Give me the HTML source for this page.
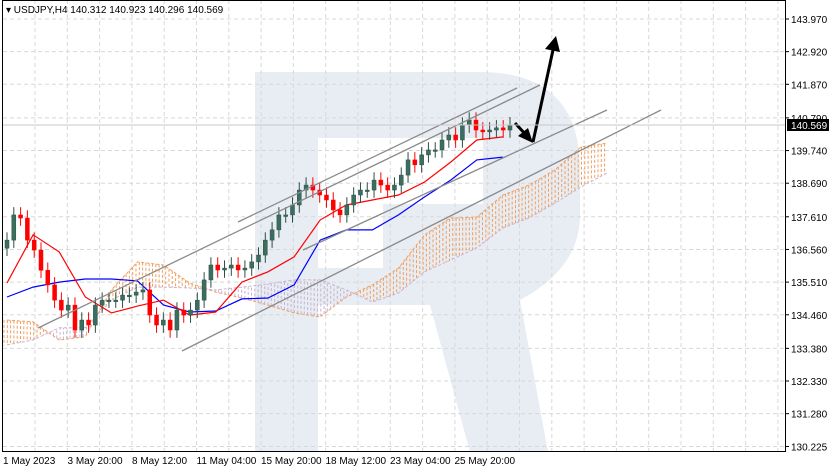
<!DOCTYPE html>
<html><head><meta charset="utf-8">
<style>
body{margin:0;background:#fff;font-family:"Liberation Sans",sans-serif;}
svg{display:block}
</style></head>
<body>
<svg id="chart" width="833" height="472" viewBox="0 0 833 472" xmlns="http://www.w3.org/2000/svg">
  <rect x="0" y="0" width="833" height="472" fill="#fff"/>
  <g>
    <path d="M255,72 H480 Q580,72 580,170 V215 Q580,268 520,300 L548,452 H470 L430,305 H318 V452 H255 Z" fill="#e8ecf3"/>
    <rect x="318" y="138" width="165" height="66" fill="#fff"/>
    <rect x="318" y="204" width="65" height="64" fill="#fff"/>
  </g>
  <g id="grid"></g>
  <g id="cloud"></g>
  <g id="lines"></g>
  <g id="candles"></g>
  <g stroke="#8a8a8a" stroke-width="1.3" fill="none">
    <line x1="38" y1="328" x2="540" y2="85"/>
    <line x1="238" y1="222" x2="517" y2="88"/>
    <line x1="303" y1="250" x2="607" y2="110"/>
    <line x1="182" y1="351" x2="661" y2="110"/>
  </g>
  <g stroke="#000" stroke-width="3" fill="#000">
    <line x1="515" y1="123" x2="527" y2="136"/>
    <polygon points="533,143 518,136 528,128" stroke="none"/>
    <line x1="533" y1="142" x2="553" y2="50"/>
    <polygon points="556,36 560,52 545,49" stroke="none"/>
  </g>
  <line x1="2" y1="125" x2="786" y2="125" stroke="#c8c8c8" stroke-width="1"/>
  <rect x="2.5" y="0.5" width="783" height="451" fill="none" stroke="#000"/>
  <g id="yaxis" font-size="10" fill="#000"></g>
  <rect x="787" y="119" width="42" height="12" fill="#000"/>
  <text x="791" y="129" font-size="10" fill="#fff">140.569</text>
  <g id="xaxis" font-size="10" fill="#000"></g>
  <text x="6" y="13" font-size="10" fill="#000">▾ USDJPY,H4  140.312 140.923 140.296 140.569</text>
</svg>
<script>
const closes=[136.86,137.67,137.57,136.86,136.54,135.89,135.42,134.93,134.61,134.77,133.97,134.29,134.13,134.77,134.93,134.93,134.93,135.09,135.09,135.19,135.26,134.45,134.13,134.29,133.97,134.61,134.45,134.61,134.93,135.58,136.06,135.90,135.96,136.06,135.90,135.96,136.16,136.38,136.86,137.19,137.67,137.67,137.99,138.47,138.63,138.47,138.31,138.15,137.83,137.67,137.99,138.31,138.47,138.47,138.79,138.63,138.47,138.63,138.95,139.44,139.28,139.60,139.76,139.76,140.08,140.24,140.08,140.56,140.72,140.40,140.34,140.40,140.47,140.40,140.57];
const firstOpen=136.6;
// indicator samples: evenly spaced from the first candle to the end of the cloud
const tenkan=[135.48,137.03,136.48,135.03,134.52,134.74,134.93,134.45,134.55,135.51,135.84,136.32,137.51,137.99,138.15,138.31,138.73,139.37,140.08,140.18];
const kijun=[135.03,135.35,135.51,135.61,135.61,135.55,134.77,134.55,134.58,134.97,135.00,135.42,136.86,137.19,137.19,137.67,138.25,138.79,139.44,139.53];
const spanA=[134.29,134.23,133.65,133.75,135.26,136.16,136.06,135.48,135.19,135.00,134.77,134.52,134.39,135.03,135.42,135.96,137.03,137.57,137.60,138.31,138.63,139.12,139.86,139.98];
const spanB=[133.49,133.65,134.04,134.04,134.93,135.35,135.35,135.32,135.26,135.35,135.45,135.58,135.58,135.26,134.87,135.16,135.84,136.22,136.61,137.25,137.57,138.05,138.57,139.02];
const priceTicks=[143.970,142.920,141.870,140.790,139.740,138.690,137.610,136.560,135.510,134.460,133.380,132.330,131.280,130.225];
const timeLabels=["1 May 2023","3 May 20:00","8 May 12:00","11 May 04:00","15 May 20:00","18 May 12:00","23 May 04:00","25 May 20:00"];
const NS="http://www.w3.org/2000/svg";
const yOf=p=>19+(143.97-p)*31.1;
const x0=7,x1=510;
const step=(x1-x0)/(closes.length-1);
const xOf=i=>x0+i*step;
const SSTEP=26.1;
const xS=k=>x0+k*SSTEP;
function mk(tag,attrs,parent){const e=document.createElementNS(NS,tag);for(const k in attrs)e.setAttribute(k,attrs[k]);parent.appendChild(e);return e;}
const grid=document.getElementById('grid');
for(let k=0;k<24;k++){const x=35+k*32.3;
 const l=mk('line',{x1:x,y1:0,x2:x,y2:452,stroke:'#d8d8d8','stroke-dasharray':'4,3'},grid);
 
 }
const ya=document.getElementById('yaxis');
priceTicks.forEach(p=>{const y=yOf(p);
 const l=mk('line',{x1:3,y1:y,x2:785,y2:y,stroke:'#d8d8d8','stroke-dasharray':'4,3'},grid);
 
 
 const t=mk('text',{x:791,y:y+4},ya);t.textContent=p.toFixed(3);
 
 
 const tk=mk('line',{x1:786,y1:y,x2:789,y2:y,stroke:'#000'},ya);
 
 });
const xa=document.getElementById('xaxis');
timeLabels.forEach((s,i)=>{const x=3+i*64.5;
 const t=mk('text',{x:x,y:464},xa);t.textContent=s;
 
 });
const cg=document.getElementById('cloud');
const interp=(arr,x)=>{const k=(x-x0)/SSTEP;const i=Math.min(arr.length-2,Math.max(0,Math.floor(k)));const f=k-i;return arr[i]*(1-f)+arr[i+1]*f;};
const xEnd=xS(spanA.length-1);
for(let x=4;x<=xEnd;x+=3.3){const a=interp(spanA,x),b=interp(spanB,x);
 const l=mk('line',{x1:x,y1:yOf(a),x2:x,y2:yOf(b),stroke:a>=b?'#f0a060':'#c8b4d2','stroke-dasharray':'3,2','stroke-width':1},cg);
 
 }
const lg=document.getElementById('lines');
function poly(vals,color,name,dash,w){const pts=vals.map((v,i)=>xS(i).toFixed(1)+','+yOf(v).toFixed(1)).join(' ');
 const p=mk('polyline',{points:pts,fill:'none',stroke:color,'stroke-width':w||1.2},lg);if(dash)p.setAttribute('stroke-dasharray',dash);
 
 }
poly(spanA,'#f0a060','senkou-span-a','3,2',1);
poly(spanB,'#c8b4d2','senkou-span-b','3,2',1);
poly(kijun,'#0000ff','kijun-sen');
poly(tenkan,'#ff0000','tenkan-sen');
const cd=document.getElementById('candles');
const wick=0.25;
const opens=closes.map((c,i)=>i===0?firstOpen:closes[i-1]);
closes.forEach((c,i)=>{const o=opens[i],x=xOf(i),up=c>=o;const col=up?'#3a6e5e':'#ff0000';
 const w=mk('line',{x1:x,y1:yOf(Math.max(c,o)+wick),x2:x,y2:yOf(Math.min(c,o)-wick),stroke:up?'#2c4f45':'#ff0000'},cd);
 
 
 const top=yOf(Math.max(o,c)),h=Math.max(1.5,yOf(Math.min(o,c))-top);
 const r=mk('rect',{x:x-2,y:top,width:4,height:h,fill:col,stroke:up?'#2c4f45':'#ff0000','stroke-width':0.5},cd);
 
 });
</script>
</body></html>
